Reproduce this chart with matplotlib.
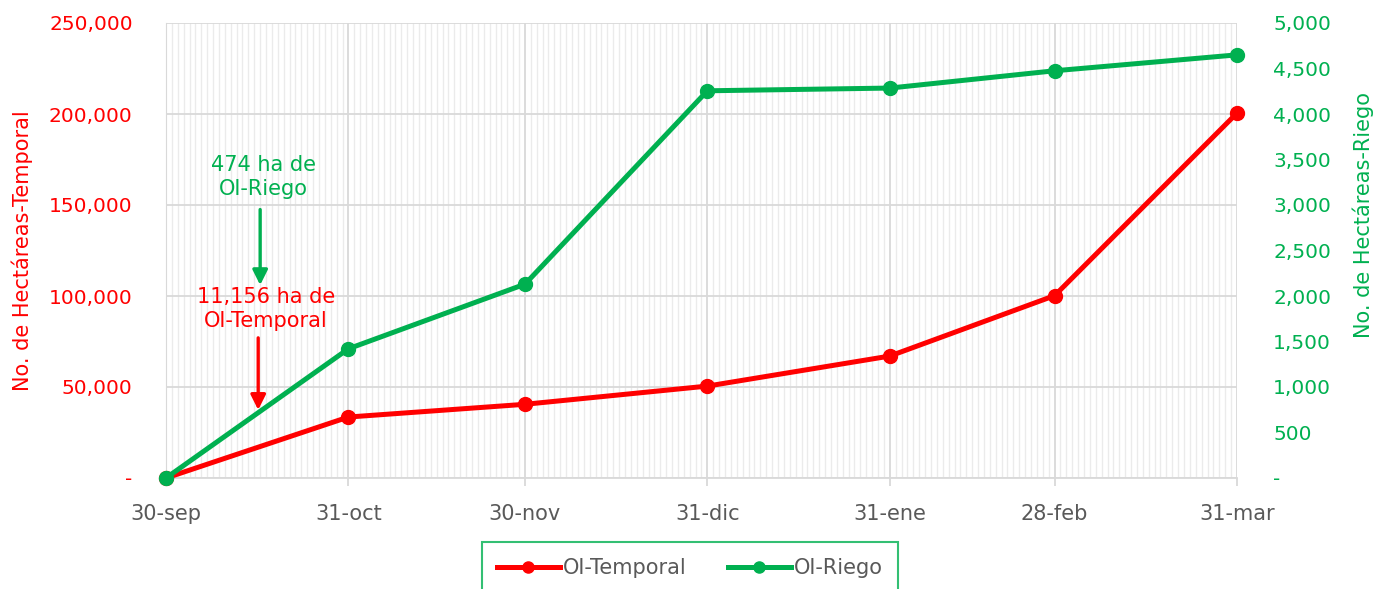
import matplotlib
matplotlib.use("Agg")
import matplotlib.pyplot as plt
import matplotlib.dates as mdates
from matplotlib.lines import Line2D
import datetime as dt

plt.rcParams['font.family'] = ['DejaVu Sans']

# ---- data ----
dates = ["2022-09-30", "2022-10-31", "2022-11-30", "2022-12-31",
         "2023-01-31", "2023-02-28", "2023-03-31"]
tick_labels = ["30-sep", "31-oct", "30-nov", "31-dic", "31-ene", "28-feb", "31-mar"]
temporal = [0, 33500, 40500, 50500, 67000, 100200, 200500]
riego = [0, 1420, 2130, 4255, 4285, 4475, 4650]

RED = "#FF0000"
GREEN = "#00B050"
GREY = "#595959"

x = [dt.datetime.strptime(d, "%Y-%m-%d") for d in dates]

fig = plt.figure(figsize=(13.73, 5.89), dpi=100)
ax = fig.add_axes([166/1373, 1-478/589, (1237-166)/1373, (478-23)/589])
ax2 = ax.twinx()

# grid
ax.set_xlim(x[0], x[-1])
ax.set_ylim(0, 250000)
ax2.set_ylim(0, 5000)
ax.set_xticks(x)
ax.set_xticklabels(tick_labels)
ax.xaxis.set_minor_locator(mdates.DayLocator())
ax.set_yticks(range(0, 250001, 50000))
ax.set_yticklabels(["-" if v == 0 else f"{v:,}" for v in range(0, 250001, 50000)])
ax2.set_yticks(range(0, 5001, 500))
ax2.set_yticklabels(["-" if v == 0 else f"{v:,}" for v in range(0, 5001, 500)])

ax.grid(which='minor', axis='x', color='#EBEBEB', linewidth=1.0)
ax.grid(which='major', axis='x', color='#D9D9D9', linewidth=1.3)
ax.grid(which='major', axis='y', color='#D9D9D9', linewidth=1.3)
ax.set_axisbelow(True)

for a in (ax, ax2):
    for s in ('top', 'right', 'left', 'bottom'):
        a.spines[s].set_visible(False)
ax.spines['left'].set_visible(True)
ax.spines['left'].set_color('#D9D9D9')
ax.spines['bottom'].set_visible(True)
ax.spines['bottom'].set_color('#D9D9D9')
ax.spines['bottom'].set_linewidth(1.3)

ax.tick_params(axis='x', which='major', colors='#D9D9D9', length=6, width=1.3,
               labelcolor=GREY, labelsize=15, pad=13)
ax.tick_params(axis='x', which='minor', length=0)
ax.tick_params(axis='y', length=0, labelcolor=RED, labelsize=14.5, pad=24)
ax2.tick_params(axis='y', length=0, labelcolor=GREEN, labelsize=14.5, pad=26)

ax.set_ylabel("No. de Hectáreas-Temporal", color=RED, fontsize=15)
ax2.set_ylabel("No. de Hectáreas-Riego", color=GREEN, fontsize=15)
ax.yaxis.set_label_coords(-0.1345, 0.5)
ax2.yaxis.set_label_coords(1.1175, 0.578)
ax.yaxis.label.set_verticalalignment('center')
ax2.yaxis.label.set_verticalalignment('center')

# lines
ax.plot(x, temporal, color=RED, linewidth=3.6, marker='o', markersize=10,
        solid_capstyle='round', zorder=5, clip_on=False)
ax2.plot(x, riego, color=GREEN, linewidth=3.6, marker='o', markersize=10,
         solid_capstyle='round', zorder=5, clip_on=False)

# annotations (data coords on left axis)
arrow_style = '-|>,head_length=0.9,head_width=0.45'
ann_x = dt.datetime(2022, 10, 16)
ax.annotate("", xy=(ann_x, 106000), xytext=(ann_x, 147500),
            arrowprops=dict(arrowstyle=arrow_style, color=GREEN, lw=2.4,
                            shrinkA=0, shrinkB=0))
ax.text(dt.datetime(2022, 10, 16, 12), 165400, "474 ha de\nOI-Riego", color=GREEN,
        fontsize=15, ha='center', va='center', linespacing=1.25)
ann_x2 = dt.datetime(2022, 10, 15, 16)
ax.annotate("", xy=(ann_x2, 37400), xytext=(ann_x2, 77000),
            arrowprops=dict(arrowstyle=arrow_style, color=RED, lw=2.4,
                            shrinkA=0, shrinkB=0))
ax.text(dt.datetime(2022, 10, 17), 92600, "11,156 ha de\nOI-Temporal", color=RED,
        fontsize=15, ha='center', va='center', linespacing=1.25)

# legend
handles = [Line2D([], [], color=RED, lw=3.6, marker='o', markersize=8),
           Line2D([], [], color=GREEN, lw=3.6, marker='o', markersize=8)]
leg = fig.legend(handles, ["OI-Temporal", "OI-Riego"], loc='center',
                 bbox_to_anchor=(690/1373, 1-568/589), ncol=2, frameon=True,
                 fancybox=False, edgecolor=GREEN, fontsize=15, handlelength=3.0,
                 handletextpad=0.15, columnspacing=2.0, borderpad=0.75,
                 borderaxespad=0)
leg.get_frame().set_linewidth(1.5)
for t in leg.get_texts():
    t.set_color(GREY)

fig.savefig("out.png", dpi=100)
